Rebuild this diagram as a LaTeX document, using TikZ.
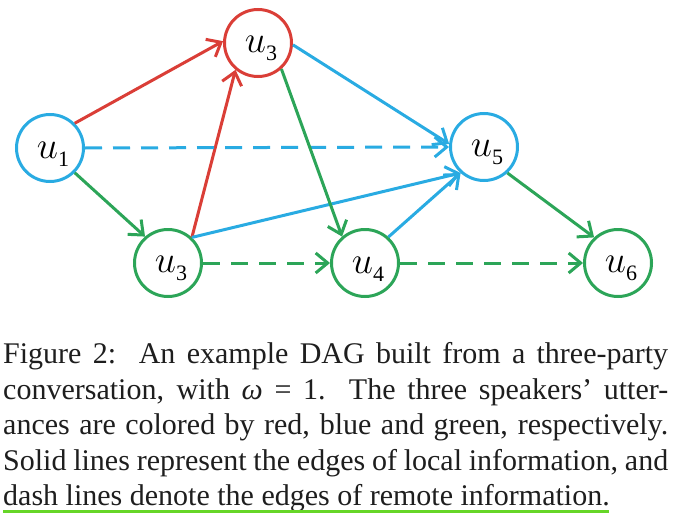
\RequirePackage{fix-cm}
\documentclass[tikz,border=0pt]{standalone}
\usepackage{fontspec}
\setmainfont{Liberation Serif}
\newfontfamily\capfont{Liberation Serif}
\usetikzlibrary{arrows.meta}
\definecolor{cred}{RGB}{218,62,55}
\definecolor{cblue}{RGB}{41,171,226}
\definecolor{cgreen}{RGB}{44,165,88}
\definecolor{ulgreen}{RGB}{102,214,40}
\definecolor{captext}{RGB}{30,30,30}
\newcommand{\ulab}[1]{\hspace*{6pt}\rule{0pt}{28pt}$u$\raisebox{-8pt}{\fontsize{22}{22}\selectfont #1}}
\begin{document}
\begin{tikzpicture}[x=1pt,y=-1pt,
  unode/.style={circle, draw, line width=3pt, minimum size=67pt, inner sep=0pt, text=black, font=\fontsize{38}{38}\selectfont},
  edge/.style={line width=3pt, -{Straight Barb[length=12pt,width=20pt]}},
  dashedge/.style={edge, dash pattern=on 17pt off 11pt},
  capline/.style={anchor=base west, inner sep=0pt, text=captext, font=\capfont\fontsize{30}{35}\selectfont}]
\useasboundingbox (0,0) rectangle (700,524);
\node[unode, draw=cblue]  (u1)  at (50,148)  {\ulab{1}};
\node[unode, draw=cred]   (u3t) at (258,43)  {\ulab{3}};
\node[unode, draw=cgreen] (u3g) at (168,263) {\ulab{3}};
\node[unode, draw=cgreen] (u4)  at (365,263) {\ulab{4}};
\node[unode, draw=cblue]  (u5)  at (484,147) {\ulab{5}};
\node[unode, draw=cgreen] (u6)  at (618,263) {\ulab{6}};
\draw[edge, cred] (u1.45) -- (u3t.177);
\draw[edge, cred] (u3g.47) -- (u3t.230);
\draw[dashedge, cblue] (u1.0) -- (u5.180);
\draw[edge, cblue] (u3t.357) -- (u5.175);
\draw[edge, cblue] (u3g.47) -- (u5.228);
\draw[edge, cblue] (u4.48) -- (u5.228);
\draw[edge, cgreen] (u1.-45) -- (u3g.131);
\draw[edge, cgreen] (u3t.312) -- (u4.131);
\draw[dashedge, cgreen] (u3g.0) -- (u4.180);
\draw[dashedge, cgreen] (u4.0) -- (u6.180);
\draw[edge, cgreen] (u5.312) -- (u6.133);
\node[capline] (c1) at (3,363.5) {\makebox[665pt][s]{Figure 2:\ \ An example DAG built from a three-party}};
\node[capline] (c2) at (3,399) {\makebox[665pt][s]{conversation, with \textit{ω} = 1.\ \ The three speakers’ utter-}};
\node[capline] (c3) at (3,434.5) {\makebox[665pt][s]{ances are colored by red, blue and green, respectively.}};
\node[capline] (c4) at (3,470) {\makebox[665pt][s]{Solid lines represent the edges of local information, and}};
\node[capline] (c5) at (3,505.5) {dash lines denote the edges of remote information.};
\coordinate (ulA) at (3,511);
\coordinate (ulB) at (609,511);
\draw[ulgreen, line width=3pt] (ulA) -- (ulB);
\end{tikzpicture}
\end{document}
